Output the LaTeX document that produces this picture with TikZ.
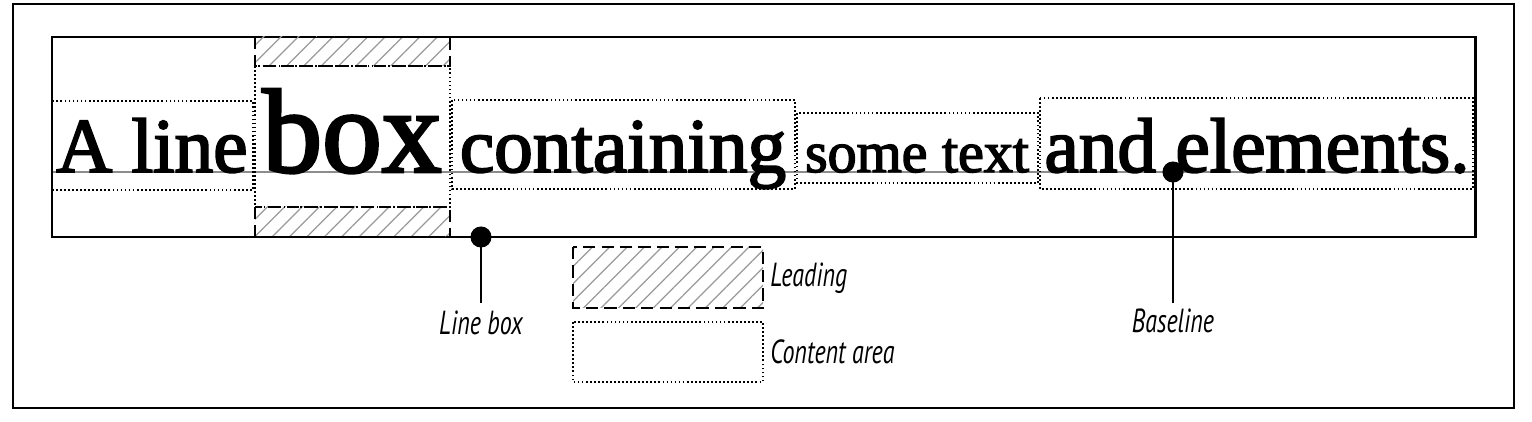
\documentclass[tikz,border=0pt]{standalone}
\usepackage{fontspec}
\setmainfont{Liberation Serif}
\newfontfamily\wordfont[FakeBold=2.5]{Liberation Serif}
\newfontfamily\labelfont[FakeStretch=0.72]{PT Sans}
\usetikzlibrary{patterns.meta, positioning}

\begin{document}
\begin{tikzpicture}[x=0.02cm, y=-0.02cm,
  content/.style={line width=1pt, dash pattern=on 1pt off 1.3pt},
  leading/.style={line width=1.2pt, dash pattern=on 7pt off 3.5pt,
    pattern={Lines[angle=45, distance=7pt, line width=0.7pt]}, pattern color=black!40},
  word/.style={anchor=base, inner sep=0pt},
  label/.style={font=\labelfont\itshape\fontsize{19}{19}\selectfont, inner sep=0pt},
  dot/.style={fill=black, circle, inner sep=0pt, minimum size=12pt}]
\useasboundingbox (0,0) rectangle (1532,422);
\draw [line width=0.8pt] (13,4) rectangle (1514,408);
\draw [black!45, line width=1.2pt] (52,172) -- (1475,172);
\draw [line width=1.7pt] (52,37) rectangle (1475,237);
\draw [leading] (255,37) rectangle (450,66);
\draw [leading] (255,207) rectangle (450,237);
\draw [content] (52,101) rectangle (253,190);
\draw [content] (255,66) rectangle (450,207);
\draw [content] (452,100) rectangle (795,189);
\draw [content] (797,113) rectangle (1038,183);
\draw [content] (1040,98) rectangle (1473,189);
\node (wA) at (152,172) [word, font=\wordfont\fontsize{44}{44}\selectfont] {A line};
\node (wbox) at (352,172) [word, font=\wordfont\fontsize{68}{68}\selectfont] {box};
\node (wcont) at (623,172) [word, font=\wordfont\fontsize{44}{44}\selectfont] {containing};
\node (wsome) at (917,172) [word, font=\wordfont\fontsize{33}{33}\selectfont] {some text};
\node (wand) at (1257,172) [word, font=\wordfont\fontsize{44}{44}\selectfont] {and elements.};
\node (lbdot) at (481,237) [dot] {};
\node (bldot) at (1173,172) [dot] {};
\node (lblabel) at (481,335) [label, anchor=base] {Line box};
\node (bllabel) at (1173,333) [label, anchor=base] {Baseline};
\coordinate (lbend) at (481,303);
\coordinate (blend) at (1173,303);
\draw [line width=1.4pt] (lbdot.center) -- (lbend);
\draw [line width=1.4pt] (bldot.center) -- (blend);
\draw [leading] (573,247) rectangle (763,308);
\draw [content] (573,322) rectangle (763,382);
\node (legl) at (770,287) [label, anchor=base west] {Leading};
\node (legc) at (770,363) [label, anchor=base west] {Content area};
\end{tikzpicture}
\end{document}
